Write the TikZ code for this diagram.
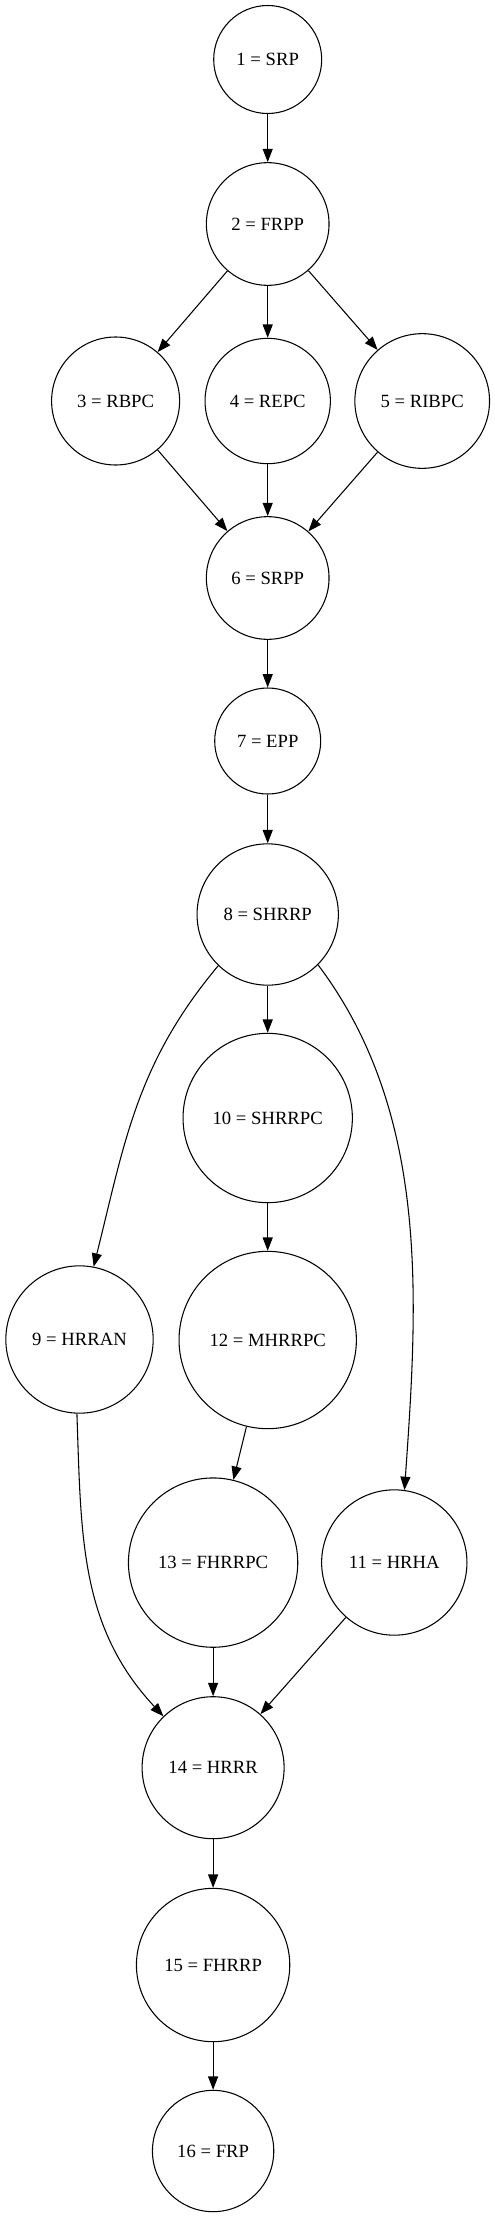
\documentclass[tikz,border=0pt]{standalone}
\usepackage{fontspec}
\setmainfont{Liberation Serif}
\usetikzlibrary{arrows.meta}

\begin{document}
\begin{tikzpicture}[x=0.75pt, y=-0.75pt,
    estado/.style={circle, draw, line width=0.8pt, inner sep=0pt, font=\fontsize{14pt}{16pt}\selectfont},
    flecha/.style={line width=0.8pt, -{Triangle[length=10pt, width=7.5pt]}}]

    \useasboundingbox (0,0) rectangle (495,2216);

    % fase de planeacion
    \node[estado, minimum size=81pt] (srp) at (267.7,59.5) {1 = SRP};
    \node[estado, minimum size=92pt] (frpp) at (267.7,224) {2 = FRPP};
    \node[estado, minimum size=96pt] (rbpc) at (115.6,401) {3 = RBPC};
    \node[estado, minimum size=94pt] (repc) at (267.7,401) {4 = REPC};
    \node[estado, minimum size=101pt] (ribpc) at (422.2,401) {5 = RIBPC};
    \node[estado, minimum size=92pt] (srpp) at (267.7,578) {6 = SRPP};
    \node[estado, minimum size=79.5pt] (epp) at (267.7,741) {7 = EPP};

    % fase de recursos humanos
    \node[estado, minimum size=106pt] (shrrp) at (267.7,914.5) {8 = SHRRP};
    \node[estado, minimum size=127pt] (shrrpc) at (267.7,1118) {10 = SHRRPC};
    \node[estado, minimum size=110.5pt] (hrran) at (79.5,1339.5) {9 = HRRAN};
    \node[estado, minimum size=133pt] (mhrrpc) at (267.7,1340) {12 = MHRRPC};
    \node[estado, minimum size=127pt] (fhrrpc) at (213.1,1562.6) {13 = FHRRPC};
    \node[estado, minimum size=109pt] (hrha) at (394.3,1562.5) {11 = HRHA};
    \node[estado, minimum size=106.5pt] (hrrr) at (213.1,1767.7) {14 = HRRR};
    \node[estado, minimum size=115pt] (fhrrp) at (213.1,1965) {15 = FHRRP};
    \node[estado, minimum size=91pt] (frp) at (213.1,2151) {16 = FRP};

    % flechas rectas
    \draw[flecha] (srp) -- (frpp);
    \draw[flecha] (frpp) -- (rbpc);
    \draw[flecha] (frpp) -- (repc);
    \draw[flecha] (frpp) -- (ribpc);
    \draw[flecha] (rbpc) -- (srpp);
    \draw[flecha] (repc) -- (srpp);
    \draw[flecha] (ribpc) -- (srpp);
    \draw[flecha] (srpp) -- (epp);
    \draw[flecha] (epp) -- (shrrp);
    \draw[flecha] (shrrp) -- (shrrpc);
    \draw[flecha] (shrrpc) -- (mhrrpc);
    \draw[flecha] (mhrrpc) -- (fhrrpc);
    \draw[flecha] (fhrrpc) -- (hrrr);
    \draw[flecha] (hrha) -- (hrrr);
    \draw[flecha] (hrrr) -- (fhrrp);
    \draw[flecha] (fhrrp) -- (frp);

    % flechas curvas
    \draw[flecha] (shrrp.-134) to[out=-130, in=76] (hrran.79);
    \draw[flecha] (shrrp.-45) to[out=-53, in=86, looseness=0.9] (hrha.82);
    \draw[flecha] (hrran.-92) to[out=-88, in=133] (hrrr.134);

\end{tikzpicture}
\end{document}
